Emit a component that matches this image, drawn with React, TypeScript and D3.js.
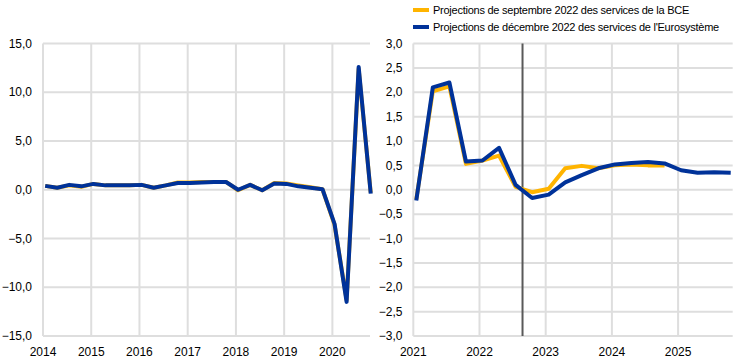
import React from 'react'
import * as d3 from 'd3'

// quarterly growth, left panel (2014Q1 - 2020Q4)
const leftStart = 2014
const leftSept = [0.4, 0.2, 0.45, 0.3, 0.6, 0.45, 0.45, 0.45, 0.5, 0.2, 0.45, 0.75, 0.75, 0.8, 0.8, 0.8, -0.05, 0.5, -0.05, 0.7, 0.65, 0.45, 0.25, 0.05, -3.6, -11.3, 12.4, -0.3]
const leftDec = [0.4, 0.2, 0.5, 0.35, 0.6, 0.45, 0.45, 0.45, 0.5, 0.2, 0.45, 0.7, 0.7, 0.75, 0.8, 0.8, 0.0, 0.5, -0.05, 0.65, 0.6, 0.35, 0.2, 0.05, -3.5, -11.5, 12.6, -0.4]

// right panel (2021Q1 - 2025Q4)
const rightStart = 2021
const rightSept = [-0.2, 2.02, 2.12, 0.53, 0.6, 0.7, 0.06, -0.05, 0.02, 0.44, 0.49, 0.44, 0.5, 0.52, 0.5, 0.5]
const rightDec = [-0.22, 2.1, 2.2, 0.58, 0.6, 0.86, 0.1, -0.17, -0.1, 0.15, 0.3, 0.44, 0.52, 0.55, 0.57, 0.54, 0.4, 0.35, 0.36, 0.35]
const projectionStart = 2022.65

const leftYears = [2014, 2015, 2016, 2017, 2018, 2019, 2020]
const leftTicks = [15, 10, 5, 0, -5, -10, -15]
const rightYears = [2021, 2022, 2023, 2024, 2025]
const rightTicks = [3, 2.5, 2, 1.5, 1, 0.5, 0, -0.5, -1, -1.5, -2, -2.5, -3]

const legendItems = [
  { label: 'Projections de septembre 2022 des services de la BCE', color: '#ffb400' },
  { label: "Projections de décembre 2022 des services de l'Eurosystème", color: '#003299' },
]

const YELLOW = '#ffb400'
const BLUE = '#003299'
const GRID = '#dedede'
const FONT = 'Arial, "Liberation Sans", sans-serif'
const fmt = (v: number) => d3.format('.1f')(v).replace('.', ',')

const top = 43.5
const bottom = 336

function Panel({ x0, x1, xDomain, yDomain, years, ticks, series, start, labelX, marker }: any) {
  const x = d3.scaleLinear().domain(xDomain).range([x0, x1])
  const y = d3.scaleLinear().domain(yDomain).range([bottom, top])
  const off = 0.045
  const line = d3
    .line<number>()
    .x((_, i) => x(start + i / 4 + off))
    .y((d) => y(d))

  return (
    <g>
      {ticks.map((t: number) => (
        <g key={t}>
          <line x1={x0} x2={x1} y1={y(t)} y2={y(t)} stroke={GRID} strokeWidth={2} />
          <text x={labelX} y={y(t)} dy="0.35em" textAnchor="end" fontSize={12} fill="#000">
            {fmt(t)}
          </text>
        </g>
      ))}
      {years.map((yr: number) => (
        <g key={yr}>
          <line x1={x(yr)} x2={x(yr)} y1={top} y2={bottom} stroke={GRID} strokeWidth={2} />
          <text x={x(yr)} y={356} textAnchor="middle" fontSize={12} fill="#000">
            {yr}
          </text>
        </g>
      ))}
      {marker != null && (
        <line x1={x(marker)} x2={x(marker)} y1={top} y2={bottom} stroke="#595959" strokeWidth={2} />
      )}
      {series.map((s: any, i: number) => (
        <path
          key={i}
          d={line(s.values) || ''}
          fill="none"
          stroke={s.color}
          strokeWidth={4}
          strokeLinejoin="round"
        />
      ))}
    </g>
  )
}

export default function App() {
  return (
    <svg
      width={741}
      height={363}
      style={{ position: 'absolute', left: 0, top: 0, background: '#fff' }}
      fontFamily={FONT}
    >
      <Panel
        x0={43}
        x1={370}
        xDomain={[2014, 2020.78]}
        yDomain={[-15, 15]}
        years={leftYears}
        ticks={leftTicks}
        start={leftStart}
        labelX={32}
        series={[
          { values: leftSept, color: YELLOW },
          { values: leftDec, color: BLUE },
        ]}
      />
      <Panel
        x0={413.3}
        x1={732.7}
        xDomain={[2021, 2025.825]}
        yDomain={[-3, 3]}
        years={rightYears}
        ticks={rightTicks}
        start={rightStart}
        labelX={402.5}
        marker={projectionStart}
        series={[
          { values: rightSept, color: YELLOW },
          { values: rightDec, color: BLUE },
        ]}
      />
      {legendItems.map((d, i) => (
        <g key={d.label} transform={`translate(413,${10 + i * 17})`}>
          <rect x={0} y={-2} width={16} height={4} fill={d.color} />
          <text x={20} y={0} dy="0.35em" fontSize={11} letterSpacing={-0.25}>
            {d.label}
          </text>
        </g>
      ))}
    </svg>
  )
}
